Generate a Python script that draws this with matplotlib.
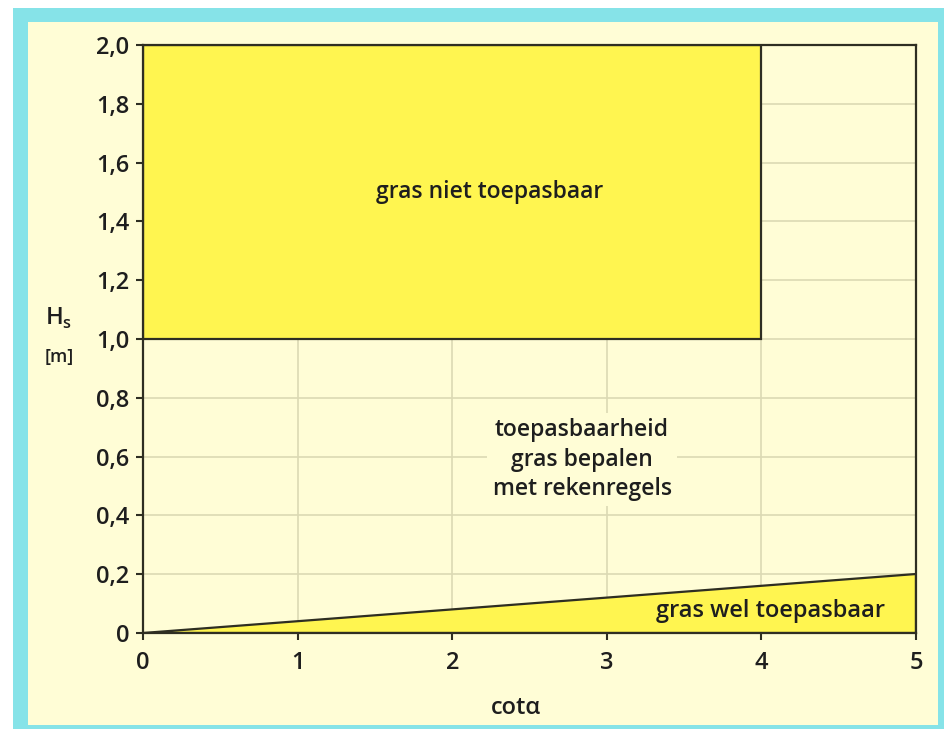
import matplotlib
matplotlib.use('Agg')
import matplotlib.pyplot as plt
from matplotlib.patches import Rectangle

# data
xticks = [0, 1, 2, 3, 4, 5]
xticklabels = ['0', '1', '2', '3', '4', '5']
yticks = [0, 0.2, 0.4, 0.6, 0.8, 1.0, 1.2, 1.4, 1.6, 1.8, 2.0]
yticklabels = ['0', '0,2', '0,4', '0,6', '0,8', '1,0', '1,2', '1,4', '1,6', '1,8', '2,0']
# region "gras niet toepasbaar": box in cot(alpha) / Hs
box_x = [0, 4]
box_y = [1.0, 2.0]
# region "gras wel toepasbaar": below the line Hs = 0.04 * cot(alpha)
wedge_x = [0, 5]
wedge_y = [0, 0.2]

yellow = '#FFF550'
cream = '#FFFDD6'
cyan = '#86E3E8'
dark = '#2E2E22'
gridc = '#DCD9B4'
txt = '#1E1E1E'

plt.rcParams['font.family'] = ['Open Sans', 'DejaVu Sans']
plt.rcParams['font.weight'] = 'semibold'

fig = plt.figure(figsize=(9.45, 7.29), dpi=100)
fig.patch.set_facecolor('white')
W, H = 945, 729
# cyan frame with cream inside
fig.patches.append(Rectangle((13 / W, 0), (945 - 13) / W, 1 - 8 / H,
                             transform=fig.transFigure, facecolor=cyan,
                             edgecolor='none', zorder=-10))
fig.patches.append(Rectangle((28 / W, 4 / H), (938 - 28) / W, (707 - 4) / H,
                             transform=fig.transFigure, facecolor=cream,
                             edgecolor='none', zorder=-9))

ax = fig.add_axes([143 / W, 1 - 633 / H, (916 - 143) / W, (633 - 45) / H])
ax.set_facecolor(cream)
ax.set_xlim(0, 5)
ax.set_ylim(0, 2.0)

ax.set_xticks(xticks)
ax.set_xticklabels(xticklabels)
ax.set_yticks(yticks)
ax.set_yticklabels(yticklabels)
ax.grid(True, color=gridc, linewidth=1.2, zorder=0)
ax.set_axisbelow(True)
ax.tick_params(direction='out', length=5, width=1.5, color=dark,
               labelsize=17, labelcolor=txt)
ax.tick_params(axis='y', pad=5)
ax.tick_params(axis='x', pad=8)

ax.fill([box_x[0], box_x[1], box_x[1], box_x[0]],
        [box_y[0], box_y[0], box_y[1], box_y[1]],
        facecolor=yellow, edgecolor=dark, linewidth=1.6, zorder=2)
ax.fill([wedge_x[0], wedge_x[1], wedge_x[1]],
        [wedge_y[0], wedge_y[0], wedge_y[1]],
        facecolor=yellow, edgecolor=dark, linewidth=1.6, zorder=2)

for s in ax.spines.values():
    s.set_color(dark)
    s.set_linewidth(1.6)
    s.set_zorder(3)

ax.text(2.24, 1.5, 'gras niet toepasbaar', ha='center', va='center',
        fontsize=16.5, color=txt, zorder=4)
ax.text(2.84, 0.59, 'toepasbaarheid\ngras bepalen\nmet rekenregels', ha='center',
        va='center', fontsize=16.5, color=txt, linespacing=1.3, zorder=4,
        bbox=dict(facecolor=cream, edgecolor='none', pad=4))
ax.text(4.06, 0.075, 'gras wel toepasbaar', ha='center', va='center',
        fontsize=17, color=txt, zorder=4)

fig.text(59 / W, 1 - 325 / H, r'H$_\mathregular{s}$', ha='center', va='baseline',
         fontsize=17, color=txt)
fig.text(59 / W, 1 - 362 / H, '[m]', ha='center', va='baseline',
         fontsize=13, color=txt)
fig.text(516 / W, 1 - 714 / H, 'cotα', ha='center', va='baseline',
         fontsize=17, color=txt)

fig.savefig('out.png', dpi=100)
